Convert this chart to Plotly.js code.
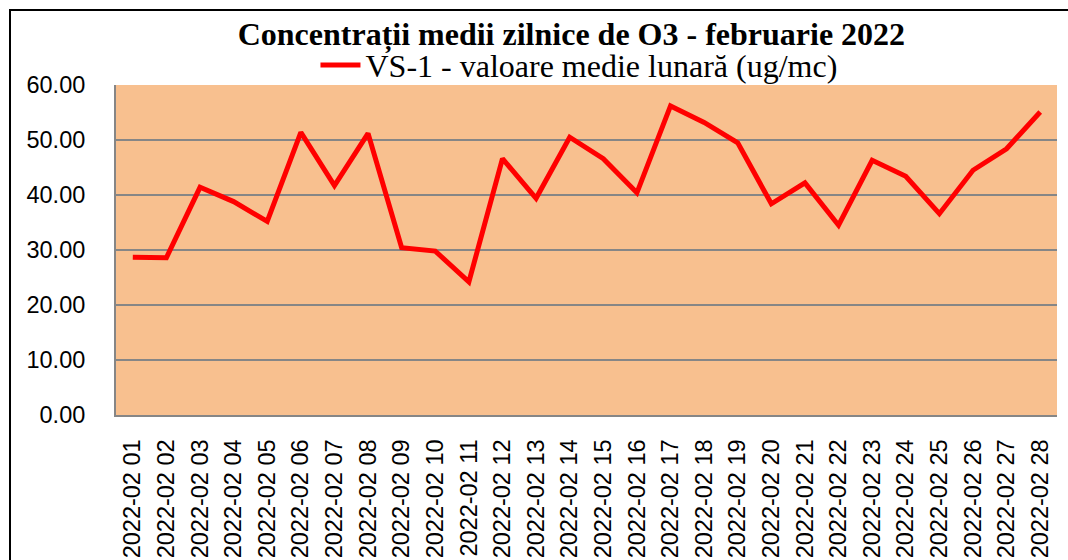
<!DOCTYPE html>
<html>
<head>
<meta charset="utf-8">
<script src="https://cdn.plot.ly/plotly-3.0.1.min.js"></script>
<style>
html,body{margin:0;padding:0;background:#fff;overflow:hidden;}
#wrap{position:relative;width:1068px;height:560px;}
#chart{width:1068px;height:560px;}
#frame{position:absolute;left:9px;top:9px;width:1100px;height:600px;border:2px solid #000;pointer-events:none;}
</style>
</head>
<body>
<div id="wrap"><div id="chart"></div><div id="frame"></div></div>
<script>
const days = ["2022-02 01","2022-02 02","2022-02 03","2022-02 04","2022-02 05","2022-02 06","2022-02 07",
  "2022-02 08","2022-02 09","2022-02 10","2022-02 11","2022-02 12","2022-02 13","2022-02 14",
  "2022-02 15","2022-02 16","2022-02 17","2022-02 18","2022-02 19","2022-02 20","2022-02 21",
  "2022-02 22","2022-02 23","2022-02 24","2022-02 25","2022-02 26","2022-02 27","2022-02 28"];
const vs1 = [28.7,28.6,41.4,38.8,35.2,51.4,41.7,51.2,30.4,29.8,24.2,46.6,39.4,50.5,
  46.6,40.4,56.2,53.2,49.5,38.4,42.2,34.5,46.3,43.4,36.6,44.5,48.4,55.1];
const seriesName = "VS-1 - valoare medie lunară (ug/mc)";
const chartTitle = "Concentrații medii zilnice de O3 - februarie 2022";

const trace = {
  x: days, y: vs1, type: "scatter", mode: "lines", name: seriesName,
  line: {color: "#ff0000", width: 5}
};
const layout = {
  width: 1068, height: 560,
  margin: {l: 116, r: 11, t: 85, b: 145},
  paper_bgcolor: "rgba(0,0,0,0)",
  plot_bgcolor: "#f8c08f",
  title: {text: "<b>" + chartTitle + "</b>", x: 0.535, xanchor: "center", y: 0.94, yanchor: "middle",
    font: {family: "Liberation Serif", size: 32, color: "#000"}},
  showlegend: true,
  legend: {orientation: "h", x: 0.492, xanchor: "center", y: 1.06, yanchor: "middle",
    font: {family: "Liberation Serif", size: 32, color: "#000"}, bgcolor: "rgba(0,0,0,0)",
    itemwidth: 40, tracegroupgap: 0},
  xaxis: {type: "category", range: [-0.5, 27.5], tickangle: -90, showgrid: false, zeroline: false,
    showline: true, linecolor: "#868686", linewidth: 2, ticks: "",
    ticklabelstandoff: 13,
    tickfont: {family: "Liberation Sans", size: 23.5, color: "#000"}},
  yaxis: {range: [0, 60], dtick: 10, tickformat: ".2f", showgrid: true, gridcolor: "#868686", gridwidth: 1.5,
    zeroline: false, showline: true, linecolor: "#868686", linewidth: 2, ticks: "",
    ticklabelstandoff: 24,
    tickfont: {family: "Liberation Sans", size: 23.5, color: "#000"}}
};
Plotly.newPlot("chart", [trace], layout, {displayModeBar: false, staticPlot: true});
</script>
</body>
</html>
